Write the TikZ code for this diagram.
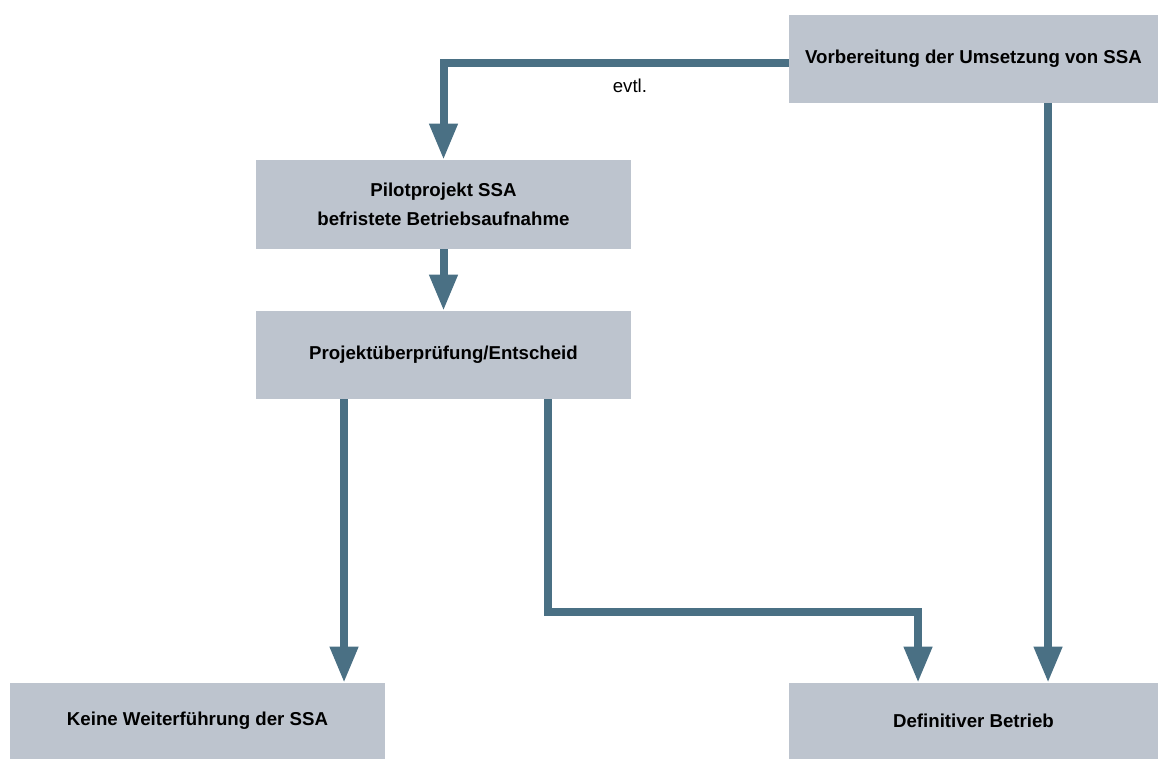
\documentclass[tikz,border=0pt]{standalone}
\usepackage{fontspec}
\setmainfont{Liberation Sans}
\usetikzlibrary{arrows.meta}
\definecolor{boxgray}{HTML}{BDC4CE}
\definecolor{flowblue}{HTML}{4A7084}
\begin{document}
\begin{tikzpicture}[x=0.75pt, y=-0.75pt,
        box/.style={fill=boxgray, inner sep=0pt, align=center, font=\fontsize{14}{21.75}\selectfont\bfseries},
        flow/.style={draw=flowblue, line width=6pt, -{Triangle[width=20pt, length=27pt]}}]
        \useasboundingbox (0,0) rectangle (1158,759);

        % Process boxes
        \node[box, minimum width=276.75pt, minimum height=66pt] (prep) at (973.5,59) {Vorbereitung der Umsetzung von SSA};
        \node[box, minimum width=281.25pt, minimum height=66.75pt] (pilot) at (443.5,204.5) {Pilotprojekt SSA\\befristete Betriebsaufnahme};
        \node[box, minimum width=281.25pt, minimum height=66pt] (review) at (443.5,355) {Projektüberprüfung/Entscheid};
        \node[box, minimum width=281.25pt, minimum height=57pt] (stop) at (197.5,721) {Keine Weiterführung der SSA};
        \node[box, minimum width=276.75pt, minimum height=57pt] (final) at (973.5,721) {Definitiver Betrieb};

        % Connections
        \draw[flow] ([yshift=-3pt]prep.west) -| node[pos=0.23, below=6pt, font=\fontsize{14}{17}\selectfont] (evtl) {evtl.} (pilot.north);
        \draw[flow] (pilot.south) -- (review.north);
        \draw[flow] ([xshift=-74.6pt]review.south) -- ([xshift=109.9pt]stop.north);
        \draw[flow] ([xshift=78.4pt]review.south) -- ++(0,213) -| ([xshift=-41.6pt]final.north);
        \draw[flow] ([xshift=55.9pt]prep.south) -- ([xshift=55.9pt]final.north);

    \end{tikzpicture}
\end{document}
